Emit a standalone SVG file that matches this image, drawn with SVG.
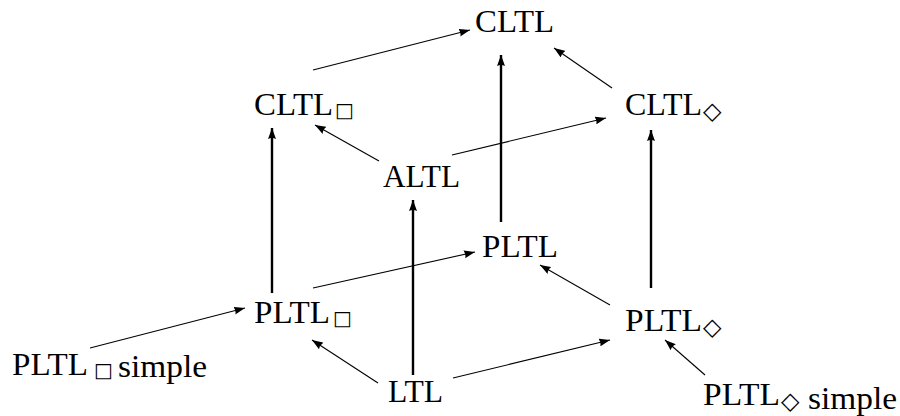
<svg xmlns="http://www.w3.org/2000/svg" width="900" height="416" viewBox="0 0 900 416">
  <style>
    .lbl { font-family: "Liberation Serif", "DejaVu Serif", serif; font-size: 31px; fill: #000; }
    .box { font-family: "DejaVu Sans", sans-serif; font-size: 20px; }
    .dia { font-family: "DejaVu Sans", sans-serif; font-size: 24px; }
    .edge { stroke: #000; stroke-width: 1.1; fill: none; marker-end: url(#head); }
    .edge.bold { stroke-width: 2.4; }
  </style>
  <defs>
    <marker id="head" markerUnits="userSpaceOnUse" markerWidth="12" markerHeight="8" refX="11" refY="4" orient="auto">
      <path d="M0,0 L11,4 L0,8 Q2,4 0,0 Z" fill="#000"/>
    </marker>
  </defs>

  <rect width="900" height="416" fill="#fff"/>

  <!-- connectors -->
  <g id="edges">
    <line class="edge" x1="313" y1="70" x2="470" y2="30"/>
    <line class="edge" x1="612" y1="88" x2="554" y2="48"/>
    <line class="edge bold" x1="501" y1="222" x2="501" y2="55"/>
    <line class="edge" x1="379" y1="161" x2="315" y2="125"/>
    <line class="edge" x1="452" y1="155" x2="606" y2="118"/>
    <line class="edge bold" x1="272" y1="293" x2="272" y2="128"/>
    <line class="edge bold" x1="413" y1="375" x2="413" y2="200"/>
    <line class="edge bold" x1="651" y1="288" x2="651" y2="130"/>
    <line class="edge" x1="313" y1="288" x2="475" y2="252"/>
    <line class="edge" x1="610" y1="305" x2="540" y2="265"/>
    <line class="edge" x1="378" y1="383" x2="312" y2="340"/>
    <line class="edge" x1="453" y1="378" x2="610" y2="340"/>
    <line class="edge" x1="90" y1="348" x2="245" y2="308"/>
    <line class="edge" x1="705" y1="375" x2="665" y2="340"/>
  </g>

  <!-- nodes -->
  <g id="cltl">
    <text class="lbl" x="475" y="32" textLength="79" lengthAdjust="spacingAndGlyphs">CLTL</text>
  </g>
  <g id="cltl-box">
    <text class="lbl" x="254" y="115"><tspan textLength="79" lengthAdjust="spacingAndGlyphs">CLTL</tspan><tspan class="box" x="335" y="117">□</tspan></text>
  </g>
  <g id="cltl-diamond">
    <text class="lbl" x="625" y="115"><tspan textLength="77" lengthAdjust="spacingAndGlyphs">CLTL</tspan><tspan class="dia" x="703" y="119">◇</tspan></text>
  </g>
  <g id="altl">
    <text class="lbl" x="383" y="187" textLength="77" lengthAdjust="spacingAndGlyphs">ALTL</text>
  </g>
  <g id="pltl">
    <text class="lbl" x="482" y="257" textLength="76" lengthAdjust="spacingAndGlyphs">PLTL</text>
  </g>
  <g id="pltl-box">
    <text class="lbl" x="254" y="323"><tspan textLength="76" lengthAdjust="spacingAndGlyphs">PLTL</tspan><tspan class="box" x="333" y="325">□</tspan></text>
  </g>
  <g id="pltl-diamond">
    <text class="lbl" x="625" y="331"><tspan textLength="77" lengthAdjust="spacingAndGlyphs">PLTL</tspan><tspan class="dia" x="703" y="335">◇</tspan></text>
  </g>
  <g id="ltl">
    <text class="lbl" x="388" y="402" textLength="55" lengthAdjust="spacingAndGlyphs">LTL</text>
  </g>
  <g id="pltl-box-simple">
    <text class="lbl" x="12" y="375"><tspan textLength="76" lengthAdjust="spacingAndGlyphs">PLTL</tspan><tspan class="box" x="94" y="377">□</tspan><tspan x="118" textLength="89" lengthAdjust="spacingAndGlyphs">simple</tspan></text>
  </g>
  <g id="pltl-diamond-simple">
    <text class="lbl" x="703" y="405"><tspan textLength="77" lengthAdjust="spacingAndGlyphs">PLTL</tspan><tspan class="dia" x="781" y="409">◇</tspan><tspan x="808" textLength="89" lengthAdjust="spacingAndGlyphs">simple</tspan></text>
  </g>
</svg>
